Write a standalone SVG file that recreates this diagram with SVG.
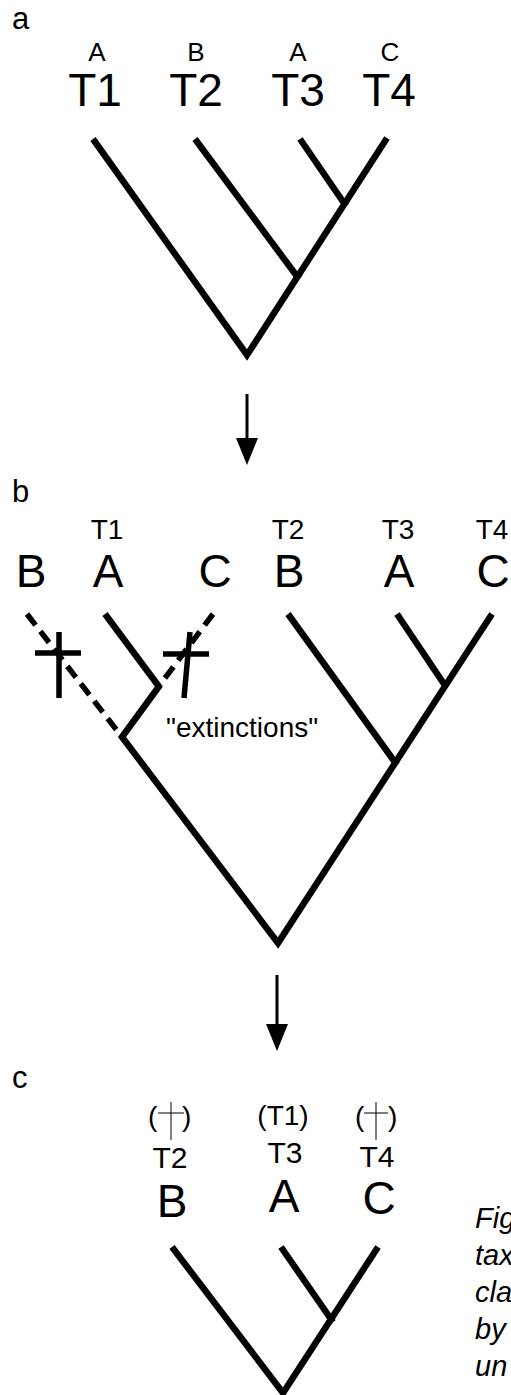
<svg xmlns="http://www.w3.org/2000/svg" width="511" height="1395" viewBox="0 0 511 1395">
<style>
  text { font-family: "Liberation Sans", Arial, sans-serif; fill: #000; }
  .panel { font-size: 31px; }
  .big { font-size: 46px; text-anchor: middle; }
  .sm26 { font-size: 26px; text-anchor: middle; }
  .sm28 { font-size: 28px; text-anchor: middle; }
  .sm30 { font-size: 30px; text-anchor: middle; }
  .cap { font-size: 29px; font-style: italic; }
  .br { fill: none; stroke: #000; stroke-width: 6.5; stroke-linecap: butt; stroke-linejoin: miter; }
  .dash { fill: none; stroke: #000; stroke-width: 5.5; stroke-dasharray: 14 8; }
  .cross { fill: none; stroke: #000; stroke-width: 5.5; }
  .thin { fill: none; stroke: #000; stroke-width: 1; }
  .arrow { fill: none; stroke: #000; stroke-width: 3; }
</style>
<defs>
  <marker id="ah" viewBox="0 0 27 22" refX="0" refY="11" markerWidth="27" markerHeight="22" markerUnits="userSpaceOnUse" orient="auto">
    <path d="M0,0 L27,11 L0,22 z" fill="#000"/>
  </marker>
</defs>

<rect width="511" height="1395" fill="#fff"/>

<!-- Panel a -->
<g id="panel-a">
  <text class="panel" x="12" y="29">a</text>
  <g id="a-T1"><text class="sm26" x="97" y="61">A</text><text class="big" x="95" y="106">T1</text></g>
  <g id="a-T2"><text class="sm26" x="196" y="61">B</text><text class="big" x="196" y="106">T2</text></g>
  <g id="a-T3"><text class="sm26" x="298" y="61">A</text><text class="big" x="298" y="106">T3</text></g>
  <g id="a-T4"><text class="sm26" x="390" y="61">C</text><text class="big" x="389" y="106">T4</text></g>
  <g id="a-tree">
    <path class="br" d="M93,139 L247,355 L387,138"/>
    <path class="br" d="M195,139 L299,279"/>
    <path class="br" d="M300,139 L346,206"/>
  </g>
</g>

<!-- Panel b -->
<g id="panel-b">
  <text class="panel" x="12" y="502">b</text>
  <g id="b-B1"><text class="big" x="31" y="587">B</text></g>
  <g id="b-A1"><text class="sm28" x="107" y="539">T1</text><text class="big" x="108" y="587">A</text></g>
  <g id="b-C1"><text class="big" x="215" y="587">C</text></g>
  <g id="b-T2"><text class="sm28" x="288" y="539">T2</text><text class="big" x="289" y="587">B</text></g>
  <g id="b-T3"><text class="sm28" x="398" y="539">T3</text><text class="big" x="399" y="587">A</text></g>
  <g id="b-T4"><text class="sm28" x="492" y="539">T4</text><text class="big" x="493" y="587">C</text></g>
  <g id="b-tree">
    <path class="dash" d="M27,614 L122,737"/>
    <path class="dash" d="M213,614 L159,686"/>
    <path class="br" d="M105,614 L160,688"/>
    <path class="br" d="M160,685 L122,737 L278,943 L492,614"/>
    <path class="br" d="M288,614 L397,765"/>
    <path class="br" d="M397,614 L446,687"/>
  </g>
  <g id="b-cross1"><path class="cross" d="M59,632 L59,698 M35,653 L81,653"/></g>
  <g id="b-cross2"><path class="cross" d="M190,632 L184,698 M163,654 L209,654"/></g>
  <text id="b-ext" x="166" y="737" style="font-size:28px">"extinctions"</text>
</g>

<!-- Panel c -->
<g id="panel-c">
  <text class="panel" x="12" y="1088">c</text>
  <g id="c-T2">
    <text x="148" y="1126" style="font-size:28px">(<tspan x="182">)</tspan></text>
    <path class="thin" d="M171,1102 L171,1140 M158,1113 L184,1113"/>
    <text class="sm30" x="170" y="1168">T2</text>
    <text class="big" x="172" y="1217">B</text>
  </g>
  <g id="c-T3">
    <text class="sm28" x="283" y="1125">(T1)</text>
    <text class="sm30" x="285" y="1163">T3</text>
    <text class="big" x="284" y="1212">A</text>
  </g>
  <g id="c-T4">
    <text x="355" y="1126" style="font-size:28px">(<tspan x="388">)</tspan></text>
    <path class="thin" d="M376,1102 L376,1140 M364,1113 L388,1113"/>
    <text class="sm30" x="377" y="1167">T4</text>
    <text class="big" x="379" y="1214">C</text>
  </g>
  <g id="c-tree">
    <path class="br" d="M172,1247 L283,1393 L378,1247"/>
    <path class="br" d="M281,1247 L333,1322"/>
  </g>
  <g id="caption">
    <text class="cap" x="475" y="1228">Fig</text>
    <text class="cap" x="475" y="1265">tax</text>
    <text class="cap" x="475" y="1302">cla</text>
    <text class="cap" x="475" y="1339">by</text>
    <text class="cap" x="475" y="1376">un</text>
  </g>
</g>

<!-- Connectors between panels -->
<g id="connectors">
  <line class="arrow" x1="247" y1="394" x2="247" y2="438" marker-end="url(#ah)"/>
  <line class="arrow" x1="277" y1="975" x2="277" y2="1024" marker-end="url(#ah)"/>
</g>
</svg>
